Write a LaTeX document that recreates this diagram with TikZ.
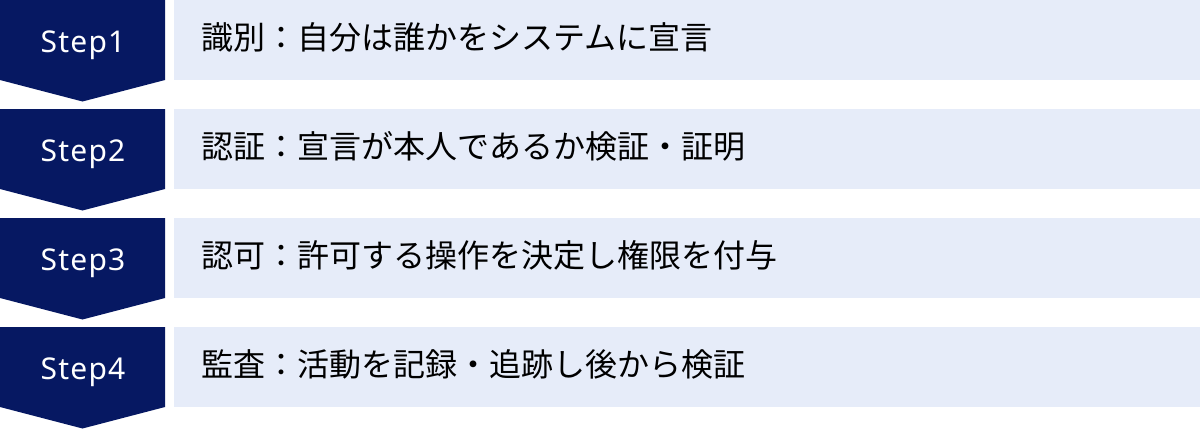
\documentclass[tikz,border=0pt]{standalone}
\usepackage{fontspec}
\setmainfont{Noto Sans CJK JP}
\newfontfamily\stepfont[LetterSpace=4]{Noto Sans}
\usepackage{tikz}
\usetikzlibrary{positioning}

\definecolor{stepnavy}{RGB}{6,24,98}
\definecolor{descblue}{RGB}{230,236,249}

\begin{document}
\begin{tikzpicture}[
				x=1pt, y=-1pt,
				chevron/.style={fill=stepnavy},
				steplabel/.style={anchor=base, inner sep=0pt, text=white, font=\stepfont\fontsize{30}{36}\selectfont},
				descbox/.style={anchor=north west, fill=descblue, minimum height=80pt, text width=971pt, inner xsep=27.5pt, inner ysep=0pt, text height=24pt, text depth=5pt, align=left, font=\fontsize{32}{38}\selectfont}
			]

			\useasboundingbox (0,0) rectangle (1200,429);

			% step arrows
			\fill[chevron] (0,0) -- (165,0) -- (165,80) -- (82.5,101.5) -- (0,80) -- cycle;
			\fill[chevron] (0,109) -- (165,109) -- (165,189) -- (82.5,210.5) -- (0,189) -- cycle;
			\fill[chevron] (0,218) -- (165,218) -- (165,298) -- (82.5,319.5) -- (0,298) -- cycle;
			\fill[chevron] (0,327) -- (165,327) -- (165,407) -- (82.5,428.5) -- (0,407) -- cycle;

			\node[steplabel] (step1) at (83,52.5) {Step1};
			\node[steplabel] (step2) at (83,161.5) {Step2};
			\node[steplabel] (step3) at (83,270.5) {Step3};
			\node[steplabel] (step4) at (83,379.5) {Step4};

			% descriptions
			\node[descbox] (ident) at (174,0) {識別：自分は誰かをシステムに宣言};
			\node[descbox] (authn) at (174,109) {認証：宣言が本人であるか検証・証明};
			\node[descbox] (authz) at (174,218) {認可：許可する操作を決定し権限を付与};
			\node[descbox] (audit) at (174,327) {監査：活動を記録・追跡し後から検証};

		\end{tikzpicture}
\end{document}
